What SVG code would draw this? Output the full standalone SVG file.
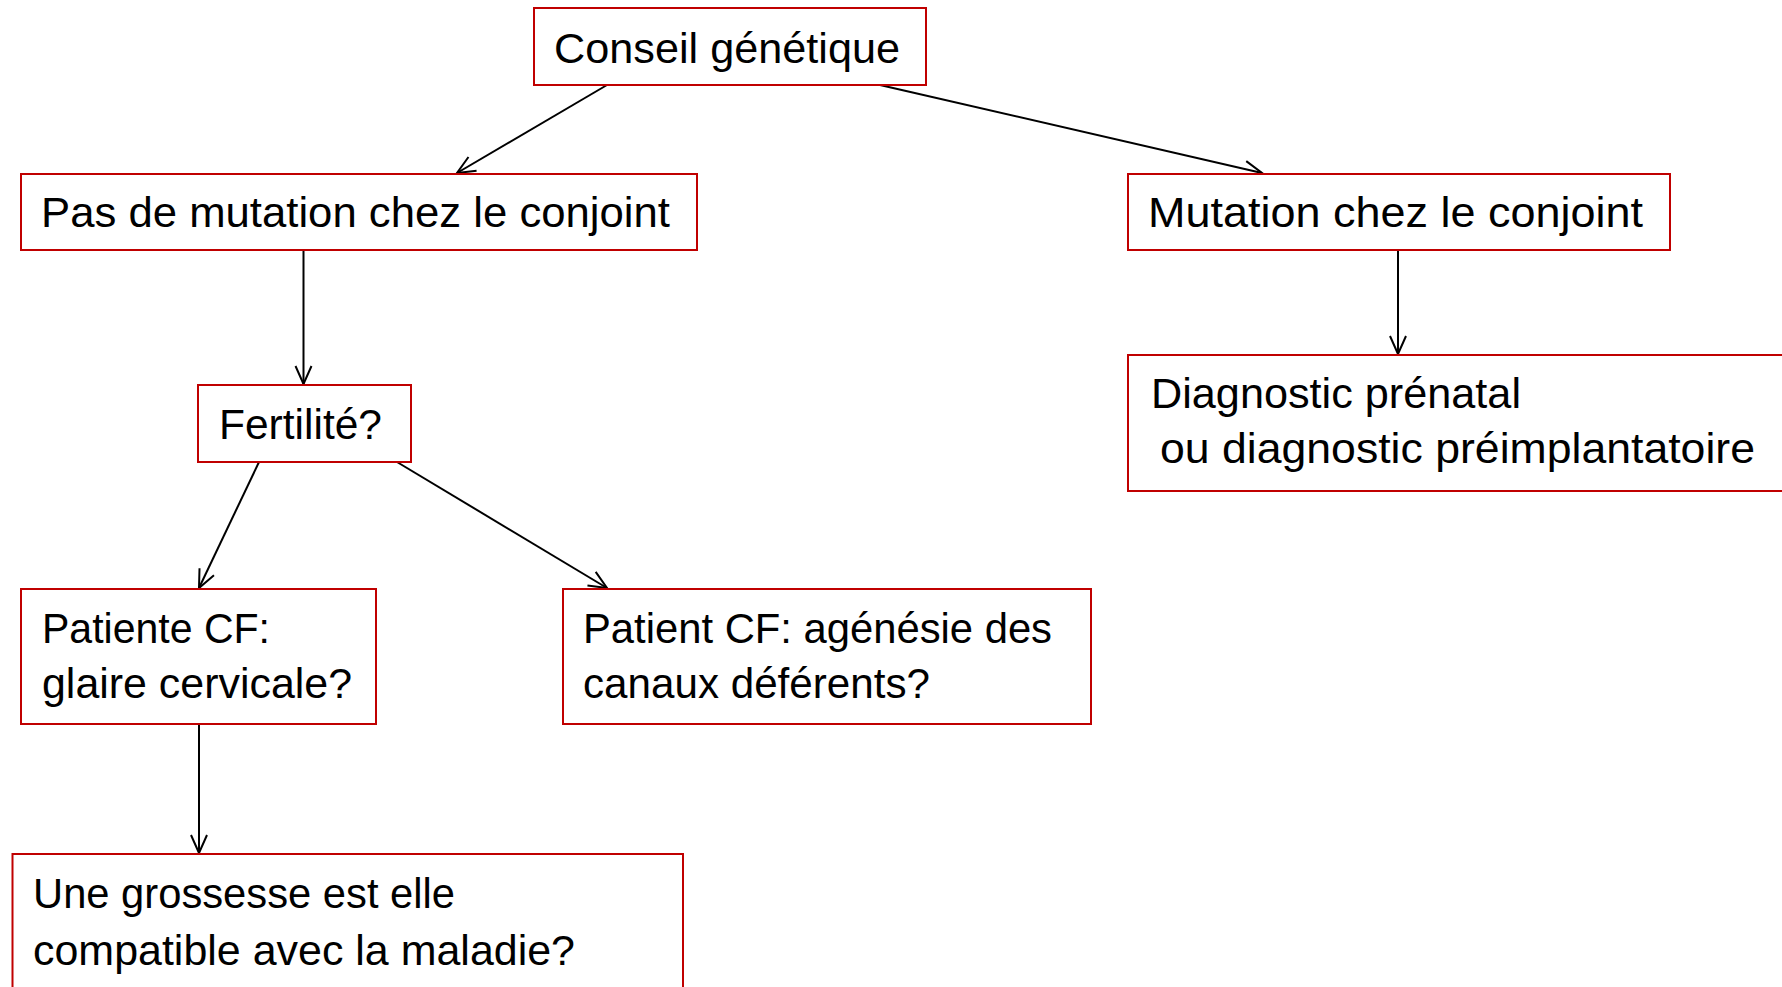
<svg xmlns="http://www.w3.org/2000/svg" width="1782" height="987" viewBox="0 0 1782 987">
<style>
.box{fill:#FFFFFF;stroke:#C00000;stroke-width:2}
.t{font-family:"Liberation Sans",Arial,sans-serif;font-size:43px;fill:#000000}
.c{fill:none;stroke:#000000;stroke-width:2}
</style>
<defs>
<marker id="arr" markerUnits="userSpaceOnUse" markerWidth="26" markerHeight="26" viewBox="-22 -13 26 26" refX="0" refY="0" orient="auto" overflow="visible">
<path d="M-18,-8 L0,0 L-18,8" fill="none" stroke="#000000" stroke-width="2"/>
</marker>
</defs>
<rect x="0" y="0" width="1782" height="987" fill="#FFFFFF"/>
<g id="connectors">
<line class="c" x1="607" y1="85" x2="457" y2="173" marker-end="url(#arr)"/>
<line class="c" x1="880" y1="85" x2="1262" y2="173" marker-end="url(#arr)"/>
<line class="c" x1="303.5" y1="250" x2="303.5" y2="384" marker-end="url(#arr)"/>
<line class="c" x1="1398" y1="250" x2="1398" y2="354" marker-end="url(#arr)"/>
<line class="c" x1="259" y1="462" x2="199" y2="588" marker-end="url(#arr)"/>
<line class="c" x1="397" y1="462" x2="607" y2="588" marker-end="url(#arr)"/>
<line class="c" x1="199" y1="724" x2="199" y2="853" marker-end="url(#arr)"/>
</g>
<g id="conseil">
<rect class="box" x="534" y="8" width="392" height="77"/>
<text class="t" x="554" y="63" textLength="346" lengthAdjust="spacingAndGlyphs">Conseil génétique</text>
</g>
<g id="pas-mutation">
<rect class="box" x="21" y="174" width="676" height="76"/>
<text class="t" x="41" y="227" textLength="629" lengthAdjust="spacingAndGlyphs">Pas de mutation chez le conjoint</text>
</g>
<g id="mutation">
<rect class="box" x="1128" y="174" width="542" height="76"/>
<text class="t" x="1148" y="227" textLength="495" lengthAdjust="spacingAndGlyphs">Mutation chez le conjoint</text>
</g>
<g id="diagnostic">
<rect class="box" x="1128" y="355" width="700" height="136"/>
<text class="t" x="1151" y="408" textLength="370" lengthAdjust="spacingAndGlyphs">Diagnostic prénatal</text>
<text class="t" x="1160" y="463" textLength="595" lengthAdjust="spacingAndGlyphs">ou diagnostic préimplantatoire</text>
</g>
<g id="fertilite">
<rect class="box" x="198" y="385" width="213" height="77"/>
<text class="t" x="219" y="439" textLength="163" lengthAdjust="spacingAndGlyphs">Fertilité?</text>
</g>
<g id="patiente">
<rect class="box" x="21" y="589" width="355" height="135"/>
<text class="t" x="42" y="643" textLength="228" lengthAdjust="spacingAndGlyphs">Patiente CF:</text>
<text class="t" x="42" y="698" textLength="310" lengthAdjust="spacingAndGlyphs">glaire cervicale?</text>
</g>
<g id="patient">
<rect class="box" x="563" y="589" width="528" height="135"/>
<text class="t" x="583" y="643" textLength="469" lengthAdjust="spacingAndGlyphs">Patient CF: agénésie des</text>
<text class="t" x="583" y="698" textLength="347" lengthAdjust="spacingAndGlyphs">canaux déférents?</text>
</g>
<g id="grossesse">
<rect class="box" x="12.5" y="854" width="670.5" height="160"/>
<text class="t" x="33" y="908" textLength="422" lengthAdjust="spacingAndGlyphs">Une grossesse est elle</text>
<text class="t" x="33" y="965" textLength="542" lengthAdjust="spacingAndGlyphs">compatible avec la maladie?</text>
</g>
</svg>
